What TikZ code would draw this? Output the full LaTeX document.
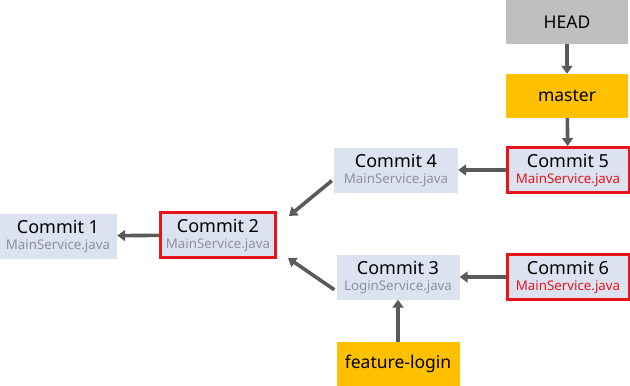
\documentclass[tikz,border=0pt]{standalone}
\usepackage{fontspec}
\setmainfont{Noto Sans}
\usetikzlibrary{arrows.meta}
\definecolor{boxfill}{HTML}{DDE2F0}
\definecolor{redc}{HTML}{E8141C}
\definecolor{gold}{HTML}{FFC000}
\definecolor{headgray}{HTML}{BFBFBF}
\definecolor{arrowc}{HTML}{5A5A5A}
\definecolor{subgray}{HTML}{8E909C}
\tikzset{
  commit/.style={fill=boxfill, minimum width=#1, minimum height=45pt, inner sep=0pt, align=center, font=\fontsize{18}{19}\selectfont},
  commit/.default=120pt,
  changed/.style={draw=redc, line width=3pt},
  label/.style={fill=gold, minimum width=122pt, minimum height=44pt, inner sep=0pt, font=\fontsize{17.5}{19}\selectfont},
  headbox/.style={fill=headgray, minimum width=122pt, minimum height=44pt, inner sep=0pt, font=\fontsize{17.5}{19}\selectfont},
  conn/.style={draw=arrowc, line width=3.6pt, -{Triangle[length=8pt,width=11pt]}},
}
\newcommand{\ctext}[3]{#1\\[-3pt]{\fontsize{13.3}{14}\selectfont\color{#3}#2}}
\begin{document}
\begin{tikzpicture}[x=1pt,y=-1pt]
\useasboundingbox (0,0) rectangle (630,386);
\node[headbox] (head) at (567,22) {HEAD};
\node[label] (master) at (567,96) {master};
\node[commit=122pt, changed] (c5) at (568,170) {\ctext{Commit 5}{MainService.java}{redc}};
\node[commit=124pt] (c4) at (396,170) {\ctext{Commit 4}{MainService.java}{subgray}};
\node[commit=115pt, changed] (c2) at (218,235) {\ctext{Commit 2}{MainService.java}{subgray}};
\node[commit=118pt] (c1) at (58,236) {\ctext{Commit 1}{MainService.java}{subgray}};
\node[commit=123pt] (c3) at (398,277) {\ctext{Commit 3}{LoginService.java}{subgray}};
\node[commit=122pt, changed] (c6) at (568,277) {\ctext{Commit 6}{MainService.java}{redc}};
\node[label, minimum width=123pt] (fl) at (398,364) {feature-login};
\draw[conn] (head) -- (master);
\draw[conn] (master) -- (c5);
\draw[conn] (c5) -- (c4);
\draw[conn] (c6) -- (c3);
\draw[conn] (c2) -- (c1);
\draw[conn] (fl) -- (c3);
\draw[conn] ([shift={(-2,-12)}]c4.south west) -- ([shift={(12,5)}]c2.north east);
\draw[conn] ([shift={(-2,-10)}]c3.south west) -- ([shift={(11,-1)}]c2.south east);
\end{tikzpicture}
\end{document}
